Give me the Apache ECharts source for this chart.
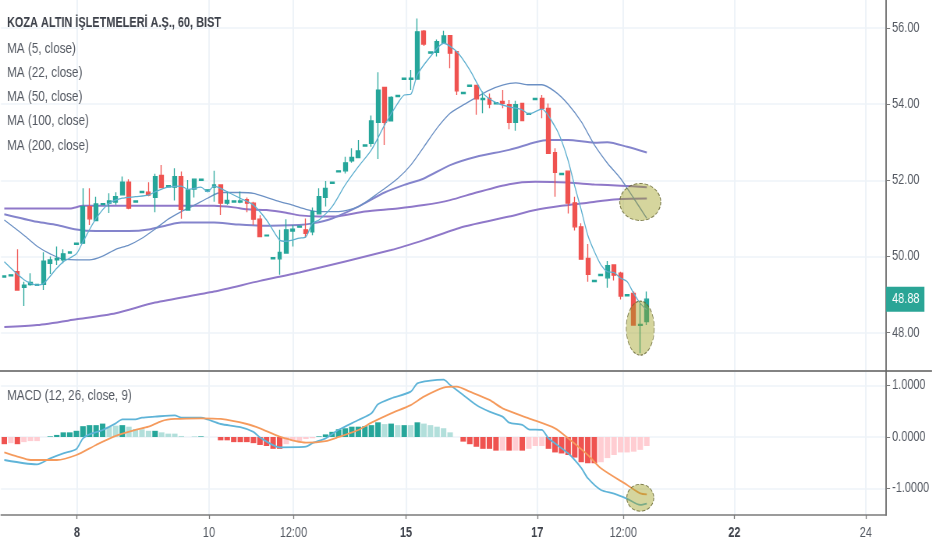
<!DOCTYPE html>
<html>
<head>
<meta charset="utf-8">
<title>KOZA ALTIN</title>
<script src="https://cdn.jsdelivr.net/npm/echarts@6/dist/echarts.min.js"></script>
<style>
  html, body { margin: 0; padding: 0; background: #fff; overflow: hidden; }
  #wrap { width: 932px; height: 550px; overflow: hidden; }
  /* the reference is squeezed sideways, text included */
  #main { width: 1195px; height: 550px; transform: scaleX(0.78); transform-origin: left top; }
</style>
</head>
<body>
<div id="wrap"><div id="main"></div></div>
<script>
// open, close, low, high per hourly bar
var candles = [
  [49.46,49.49,49.45,49.50],[49.49,49.52,49.48,49.53],[49.60,49.12,49.12,50.19],[49.19,49.25,48.70,49.34],
  [49.26,49.32,49.23,49.56],[49.24,49.27,49.23,49.28],[49.27,49.88,49.12,50.11],[49.82,49.91,49.54,50.00],
  [49.91,49.95,49.78,50.26],[49.91,50.07,49.82,50.19],[50.09,50.12,50.08,50.13],[50.32,50.35,50.31,50.36],
  [50.35,51.31,50.35,51.79],[51.31,50.99,50.83,51.79],[50.94,51.38,50.94,51.57],[51.36,51.39,51.35,51.40],
  [51.40,51.46,51.14,51.66],[51.43,51.57,51.36,51.69],[51.62,51.95,51.62,52.10],[51.95,51.27,51.24,52.03],
  [51.43,51.46,51.42,51.47],[51.68,51.71,51.67,51.72],[51.69,51.61,51.58,51.95],[51.55,52.10,51.16,52.17],
  [52.13,51.81,51.79,52.40],[51.83,51.86,51.82,51.87],[51.82,52.10,51.47,52.32],[52.10,51.24,50.99,52.23],
  [51.22,51.75,51.22,52.01],[51.77,52.03,51.55,52.04],[52.00,52.03,51.99,52.04],[51.72,51.75,51.71,51.76],
  [51.82,51.88,51.44,52.25],[51.88,51.40,51.09,51.88],[51.40,51.47,51.36,51.71],[51.43,51.46,51.42,51.47],
  [51.43,51.46,51.40,51.71],[51.49,51.40,51.16,51.55],[51.40,50.98,50.83,51.44],[50.98,50.52,50.52,51.08],
  [50.54,50.56,50.53,50.57],[49.94,49.97,49.93,49.98],[49.94,50.11,49.52,50.70],[50.09,50.70,50.09,50.98],
  [50.67,50.72,50.26,50.83],[50.77,50.80,50.76,50.81],[50.70,50.61,50.49,51.00],[50.65,51.18,50.56,51.29],
  [51.12,51.57,51.12,51.79],[51.55,51.79,51.31,51.98],[51.92,51.95,51.91,51.96],[52.22,52.25,52.21,52.26],
  [52.25,52.46,52.18,52.62],[52.51,52.60,52.46,52.84],[52.60,52.77,52.60,53.06],[52.90,52.93,52.89,52.94],
  [52.97,53.56,52.88,53.70],[53.52,54.37,52.56,54.84],[54.44,53.52,52.93,54.44],[53.56,54.18,53.56,54.21],
  [54.20,54.23,54.19,54.24],[54.65,54.68,54.64,54.69],[54.65,54.68,54.37,54.90],[54.66,55.90,54.66,56.25],
  [55.92,55.58,55.53,55.95],[55.34,55.37,55.33,55.38],[55.36,55.64,55.25,55.70],[55.60,55.79,55.58,55.93],
  [55.80,55.34,54.94,55.80],[55.38,54.35,54.24,55.38],[54.28,54.31,54.27,54.32],[54.47,54.50,54.46,54.51],
  [54.49,54.14,53.72,54.50],[54.12,54.15,53.76,54.33],[54.15,54.00,53.89,54.28],[54.01,54.04,54.00,54.05],
  [54.07,54.02,53.89,54.37],[53.99,53.52,53.34,54.11],[53.52,53.99,53.30,54.09],[54.02,53.57,53.57,54.02],
  [53.73,53.76,53.72,53.77],[54.12,54.15,54.11,54.16],[54.15,53.89,53.63,54.24],[53.89,52.71,52.71,54.02],
  [52.73,52.21,51.57,52.84],[52.15,52.18,52.14,52.19],[52.24,51.40,51.13,52.24],[51.41,50.78,50.68,51.57],
  [50.78,49.93,49.93,50.87],[49.95,49.53,49.34,50.33],[49.34,49.37,49.33,49.38],[49.50,49.53,49.49,49.54],
  [49.44,49.76,49.18,49.88],[49.78,49.51,49.37,49.78],[49.56,48.96,48.87,49.60],[48.97,49.00,48.96,49.01],
  [49.03,48.20,48.20,49.08],[48.19,48.22,47.46,48.77],[48.29,48.88,48.20,49.08]
];

var ma5 = [[0,49.86],[3,49.39],[5,49.25],[6,49.29],[8,49.69],[9,49.86],[11,50.07],[12,50.39],[14,51.00],[16,51.40],
  [18,51.53],[20,51.57],[22,51.61],[23,51.70],[25,51.82],[27,51.85],[28,51.76],[30,51.82],[31,51.70],[32,51.85],
  [34,51.70],[36,51.53],[38,51.35],[40,50.96],[42,50.43],[43,50.40],[45,50.48],[46,50.52],[47,50.87],[48,50.96],
  [50,51.31],[52,51.88],[54,52.36],[56,52.80],[58,53.45],[60,54.02],[61,54.24],[62,54.26],[63,54.77],[65,55.25],
  [67,55.60],[69,55.38],[71,54.90],[73,54.29],[75,54.04],[77,53.93],[79,53.85],[80,53.74],[82,53.87],[84,53.41],
  [85,53.04],[86,52.52],[87,51.85],[88,51.22],[89,50.56],[90,50.13],[91,49.78],[92,49.60],[93,49.58],[94,49.43],
  [95,49.34],[96,49.03],[97,48.77],[98,48.60]];
var ma22 = [[0,50.96],[3,50.56],[5,50.27],[7,50.07],[9,49.93],[13,49.91],[15,50.01],[17,50.19],[19,50.30],[21,50.48],
  [23,50.72],[25,50.98],[27,51.18],[29,51.35],[31,51.53],[33,51.68],[36,51.68],[38,51.66],[40,51.55],[42,51.44],
  [44,51.35],[46,51.24],[48,51.18],[51,51.18],[54,51.31],[57,51.66],[60,52.05],[62,52.40],[64,52.88],[66,53.37],
  [68,53.76],[70,53.98],[72,54.18],[74,54.37],[76,54.50],[78,54.56],[80,54.51],[82,54.51],[84,54.33],[86,54.00],
  [88,53.54],[90,52.93],[92,52.45],[94,52.05],[96,51.53],[98,51.00]];
var ma50 = [[0,51.11],[5,50.91],[8,50.83],[11,50.71],[14,50.67],[19,50.67],[22,50.71],[25,50.83],[27,50.89],[32,50.89],
  [35,50.85],[39,50.81],[45,50.83],[47,50.87],[50,51.00],[54,51.31],[58,51.68],[61,51.88],[64,52.05],[68,52.40],
  [72,52.62],[77,52.80],[81,53.00],[83,53.06],[86,53.06],[90,52.99],[92,53.00],[95,52.88],[98,52.73]];
var ma100 = [[0,51.26],[10,51.26],[12,51.33],[15,51.33],[32,51.33],[35,51.29],[37,51.24],[40,51.22],[43,51.15],
  [45,51.08],[48,51.05],[51,51.06],[55,51.18],[60,51.26],[64,51.35],[68,51.48],[72,51.68],[77,51.90],[81,51.96],
  [86,51.94],[90,51.89],[94,51.86],[98,51.82]];
var ma200 = [[0,48.15],[5,48.20],[11,48.35],[17,48.51],[23,48.79],[32,49.08],[39,49.36],[45,49.58],[59,50.17],
  [64,50.43],[70,50.78],[77,51.05],[81,51.22],[85,51.33],[89,51.41],[93,51.50],[98,51.52]];

// MACD pane
var macdLine = [[0,-0.447],[3,-0.51],[5,-0.53],[7,-0.414],[9,-0.317],[11,-0.233],[12,-0.026],[13,0.052],[15,0.136],
  [17,0.265],[18,0.343],[20,0.343],[21,0.375],[23,0.395],[26,0.421],[27,0.375],[30,0.375],[31,0.34],[33,0.252],
  [36,0.19],[38,0.10],[39,-0.01],[42,-0.20],[46,-0.188],[47,-0.12],[49,-0.026],[51,0.14],[54,0.33],[56,0.46],
  [57,0.634],[59,0.75],[62,0.88],[63,1.04],[65,1.094],[67,1.113],[68,1.01],[70,0.816],[72,0.62],[74,0.492],
  [76,0.395],[77,0.278],[79,0.233],[80,0.149],[82,0.136],[83,-0.026],[86,-0.317],[88,-0.60],[89,-0.80],[91,-1.03],
  [93,-1.10],[95,-1.20],[97,-1.32],[98,-1.294]];
var signalLine = [[0,-0.298],[2,-0.38],[4,-0.447],[8,-0.447],[11,-0.35],[14,-0.155],[17,0.02],[20,0.136],[22,0.20],
  [24,0.31],[26,0.35],[30,0.363],[33,0.35],[37,0.252],[39,0.168],[42,0.006],[46,-0.11],[49,-0.08],[51,0.0],
  [54,0.136],[56,0.278],[59,0.46],[62,0.62],[64,0.783],[67,0.958],[69,0.977],[71,0.88],[74,0.72],[76,0.557],
  [80,0.363],[84,0.168],[86,-0.026],[89,-0.35],[91,-0.608],[95,-0.932],[97,-1.094],[98,-1.113]];
var histValues = [-0.14,-0.12,-0.14,-0.10,-0.08,-0.08,0,0.012,0.04,0.09,0.09,0.12,0.21,0.23,0.23,0.26,0.20,0.22,0.23,0.20,
  0.155,0.15,0.12,0.12,0.09,0.065,0.065,0.02,0,0.012,0.012,0,0,-0.065,-0.065,-0.10,-0.10,-0.10,-0.12,-0.155,
  -0.175,-0.23,-0.23,-0.14,-0.08,-0.08,-0.04,-0.025,0.012,0.05,0.10,0.15,0.17,0.20,0.20,0.21,0.23,0.285,0.25,0.26,
  0.23,0.23,0.23,0.285,0.26,0.23,0.20,0.17,0.09,0,-0.09,-0.14,-0.19,-0.23,-0.23,-0.265,-0.265,-0.265,-0.265,-0.265,
  -0.23,-0.175,-0.175,-0.23,-0.30,-0.32,-0.35,-0.40,-0.49,-0.51,-0.51,-0.49,-0.41,-0.35,-0.30,-0.30,-0.285,-0.25,-0.175];
// 1 = strong colour, 0 = pale colour
var histStrong = [1,0,1,0,0,0,0,1,1,1,1,1,1,1,1,1,0,0,1,0,
  0,0,0,1,0,0,0,0,0,0,1,0,0,1,1,1,1,1,1,1,
  1,1,1,0,0,0,0,0,1,1,1,1,1,1,1,1,1,1,0,1,
  0,1,0,1,0,0,0,0,0,0,1,1,1,1,1,1,0,1,0,1,
  0,0,0,1,1,1,1,1,1,1,1,0,0,0,0,0,0,0,0];

// hand drawn ellipses, [bar, value]
var priceEllipses = [[97, 51.43], [97, 48.12]];
var macdEllipse = [97, -1.18];

var barCount = 135;
var categories = [];
for (var i = 0; i < barCount; i++) categories.push(String(i));

var timeTicks = [11.09, 31.22, 44.1, 61.28, 81.3, 94.4, 111.35, 131.4];
var timeLabels = ['{b|8}', '10', '12:00', '{b|15}', '{b|17}', '12:00', '{b|22}', '24'];
var priceTicks = [48, 50, 52, 54, 56];
var macdTicks = [-1, 0, 1];
var lastClose = 48.88;

var legendTexts = ['KOZA ALTIN İŞLETMELERİ A.Ş., 60, BIST', 'MA (5, close)', 'MA (22, close)', 'MA (50, close)', 'MA (100, close)', 'MA (200, close)'];
var legendTops = [16, 41, 65, 89, 113, 138];

var S = 0.78; // same as the css scaleX, x sizes below are given in screen px
var FONT = '"Liberation Sans", Arial, sans-serif';
var GRID_COLOR = '#eef3f8';
var AXIS_COLOR = '#7b7b7b';
var TEXT_COLOR = '#555a63';
var UP = '#26a69a', DOWN = '#ef5350';

var chart = echarts.init(document.getElementById('main'));

function lineSeries(name, data, color, width, xi, yi, z) {
  return {
    name: name, type: 'line', data: data, xAxisIndex: xi, yAxisIndex: yi,
    showSymbol: false, symbol: 'none', z: z || 3, smooth: 0.25,
    lineStyle: { color: color, width: width }
  };
}

function timeAxis(gridIndex, showLabels) {
  return {
    type: 'value', gridIndex: gridIndex, position: 'bottom', min: -0.5, max: barCount - 0.5,
    axisLine: { show: showLabels, onZero: false, lineStyle: { color: AXIS_COLOR, width: 1.5 } },
    axisTick: { show: showLabels, customValues: timeTicks, length: 4, lineStyle: { color: AXIS_COLOR, width: 1.3 } },
    axisLabel: {
      show: showLabels,
      customValues: timeTicks,
      margin: 11,
      fontFamily: FONT,
      fontSize: 14,
      color: TEXT_COLOR,
      formatter: function (v) { return timeLabels[timeTicks.indexOf(v)] || ''; },
      rich: { b: { fontFamily: FONT, fontSize: 14, fontWeight: 'bold', color: '#3c4049' } }
    },
    splitLine: { show: true, lineStyle: { color: GRID_COLOR, width: 2 } }
  };
}

function hiddenBars(gridIndex) {
  return {
    type: 'category', gridIndex: gridIndex, data: categories, boundaryGap: true,
    axisLine: { show: false, onZero: false }, axisTick: { show: false }, axisLabel: { show: false }, splitLine: { show: false }
  };
}

function valueAxis(gridIndex, min, max, ticks, digits) {
  return {
    type: 'value', gridIndex: gridIndex, position: 'right', min: min, max: max, scale: true,
    axisLine: { show: true, onZero: false, lineStyle: { color: AXIS_COLOR, width: 2 } },
    axisTick: { show: true, customValues: ticks, length: 4 / S, lineStyle: { color: AXIS_COLOR } },
    axisLabel: {
      customValues: ticks, margin: 6 / S, fontFamily: FONT, fontSize: 14, color: TEXT_COLOR,
      formatter: function (v) { return v.toFixed(digits); }
    },
    splitLine: { show: true, lineStyle: { color: GRID_COLOR, width: 1.5 } }
  };
}

var titles = legendTexts.map(function (t, k) {
  return {
    text: t, left: 7 / S, top: legendTops[k], padding: 0,
    textStyle: { fontFamily: FONT, fontSize: k === 0 ? 14 : 15, fontWeight: k === 0 ? 'bold' : 'normal', color: k === 0 ? '#3c4049' : TEXT_COLOR }
  };
});
titles.push({
  text: 'MACD (12, 26, close, 9)', left: 7 / S, top: 388, padding: 0,
  textStyle: { fontFamily: FONT, fontSize: 15, fontWeight: 'normal', color: TEXT_COLOR }
});

var ellipseStyle = { color: 'rgba(159,159,32,0.55)', borderColor: '#5f5f28', borderWidth: 1, borderType: 'dashed' };

var option = {
  animation: false,
  backgroundColor: '#fff',
  title: titles,
  grid: [
    { left: 1 / S, right: 46 / S, top: 0, height: 370 },
    { left: 1 / S, right: 46 / S, top: 372, height: 143 }
  ],
  xAxis: [hiddenBars(0), timeAxis(0, false), hiddenBars(1), timeAxis(1, true)],
  yAxis: [
    valueAxis(0, 47.02, 56.735, priceTicks, 2),
    valueAxis(1, -1.515, 1.262, macdTicks, 4)
  ],
  graphic: [{
    type: 'line', z: 50, silent: true,
    shape: { x1: 0, y1: 371, x2: 932 / S, y2: 371 },
    style: { stroke: '#5a5a5a', lineWidth: 1.5 }
  }],
  series: [
    lineSeries('MA (200, close)', ma200, '#8f78c9', 2, 0, 0),
    lineSeries('MA (100, close)', ma100, '#8f78c9', 2, 0, 0),
    lineSeries('MA (50, close)', ma50, '#8484cc', 2, 0, 0),
    lineSeries('MA (22, close)', ma22, '#6b90c4', 1.3, 0, 0),
    {
      name: 'price', type: 'candlestick', data: candles, xAxisIndex: 0, yAxisIndex: 0, barWidth: 4.2 / S, z: 4,
      itemStyle: { color: UP, color0: DOWN, borderColor: UP, borderColor0: DOWN, borderWidth: 1.3 }
    },
    Object.assign(lineSeries('MA (5, close)', ma5, '#5fb0d0', 1.3, 0, 0, 5), {
      markLine: {
        silent: true, symbol: 'none', animation: false,
        lineStyle: { width: 0, color: 'transparent' },
        data: [{ yAxis: lastClose }],
        label: {
          show: true, position: 'end', distance: 0,
          backgroundColor: '#2aa596', color: '#fff', padding: [6, 5 / S, 5, 6 / S],
          fontFamily: FONT, fontSize: 14, fontWeight: 'normal',
          formatter: lastClose.toFixed(2)
        }
      }
    }),
    {
      type: 'scatter', xAxisIndex: 0, yAxisIndex: 0, z: 8, silent: true,
      data: [{ value: priceEllipses[0], symbolSize: [41 / S, 37] }, { value: priceEllipses[1], symbolSize: [28 / S, 54] }],
      itemStyle: ellipseStyle
    },
    {
      name: 'hist', type: 'bar', xAxisIndex: 2, yAxisIndex: 1, barWidth: 5.5 / S, z: 2,
      data: histValues.map(function (v, k) {
        var pale = v >= 0 ? '#b2dfdb' : '#ffcdd2';
        var strong = v >= 0 ? UP : DOWN;
        return { value: v, itemStyle: { color: histStrong[k] ? strong : pale } };
      })
    },
    lineSeries('MACD', macdLine, '#5fb4d8', 1.8, 2, 1),
    lineSeries('Signal', signalLine, '#f59a5c', 1.8, 2, 1),
    {
      type: 'scatter', xAxisIndex: 2, yAxisIndex: 1, z: 8, silent: true,
      data: [macdEllipse], symbolSize: [27 / S, 27], itemStyle: ellipseStyle
    }
  ]
};

chart.setOption(option);
</script>
</body>
</html>
